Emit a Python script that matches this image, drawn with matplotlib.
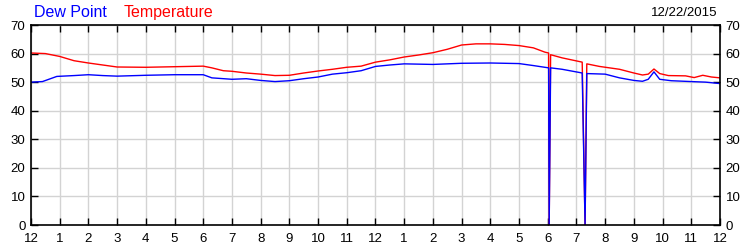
import matplotlib
matplotlib.use("Agg")
import matplotlib.pyplot as plt

plt.rcParams["font.family"] = ["Liberation Sans", "DejaVu Sans"]

# hours since midnight, values in degrees F
temp_hours = [0, 0.5, 1, 1.5, 2, 2.5, 3, 4, 5, 6, 6.3, 6.7, 7, 7.5, 8, 8.5, 9, 9.5,
              10, 10.5, 11, 11.5, 12, 12.5, 13, 13.5, 14, 14.5, 15, 15.5, 16, 16.5,
              17, 17.5, 17.9, 18.03, 18.05, 18.1, 18.5, 19.2, 19.3, 19.36, 19.8,
              20.5, 21, 21.3, 21.5, 21.7, 21.9, 22.2, 22.8, 23.1, 23.4, 23.7, 24]
temperature = [60.2, 60, 59, 57.5, 56.7, 56, 55.3, 55.2, 55.4, 55.6, 55, 54, 53.8,
               53.2, 52.8, 52.3, 52.4, 53.2, 53.9, 54.5, 55.2, 55.6, 57, 57.8, 58.8,
               59.5, 60.3, 61.5, 63, 63.4, 63.4, 63.2, 62.8, 62, 60.5, 60.2, 0, 59.6,
               58.5, 57, 0, 56.4, 55.5, 54.5, 53.2, 52.5, 52.8, 54.6, 53, 52.3, 52.2,
               51.6, 52.4, 51.8, 51.5]

dew_hours = [0, 0.4, 0.9, 1.5, 2, 2.5, 3, 4, 5, 6, 6.3, 7, 7.5, 8, 8.5, 9, 9.5, 10,
             10.5, 11, 11.5, 12, 12.5, 13, 14, 15, 16, 17, 17.5, 18.03, 18.05, 18.1,
             18.5, 19.2, 19.3, 19.36, 20, 20.5, 21, 21.3, 21.5, 21.7, 21.9, 22.3, 23,
             23.5, 24]
dew_point = [50, 50.2, 52, 52.3, 52.6, 52.3, 52.1, 52.4, 52.6, 52.6, 51.5, 51, 51.2,
             50.6, 50.2, 50.5, 51.2, 51.8, 52.8, 53.3, 54, 55.5, 56, 56.4, 56.2, 56.6,
             56.7, 56.5, 55.8, 55, 0, 55, 54.5, 53.2, 0, 53, 52.8, 51.5, 50.6, 50.3,
             51, 53.6, 51, 50.5, 50.2, 50, 49.5]

hour_labels = ["12", "1", "2", "3", "4", "5", "6", "7", "8", "9", "10", "11"] * 2 + ["12"]
y_ticks = [0, 10, 20, 30, 40, 50, 60, 70]

fig = plt.figure(figsize=(7.5, 2.5), dpi=100)
ax = fig.add_axes([0.0413, 0.1, 0.9187, 0.8])

ax.plot(temp_hours, temperature, color="red", lw=1.0)
ax.plot(dew_hours, dew_point, color="blue", lw=1.0)

ax.set_xlim(0, 24)
ax.set_ylim(0, 70)
ax.set_xticks(range(25))
ax.set_xticklabels(hour_labels)
ax.set_yticks(y_ticks)
ax.grid(True, color="#d3d3d3", lw=1.0)
ax.set_axisbelow(True)
ax.tick_params(direction="in", length=5, width=1, labelsize=9.5, colors="black",
               top=True, right=True, labelright=True)
ax.tick_params(axis="x", pad=6)
ax.tick_params(axis="y", pad=4)
for s in ax.spines.values():
    s.set_color("black")
    s.set_linewidth(1.2)

fig.text(0.045, 0.95, "Dew Point", color="blue", fontsize=11.5, va="center")
fig.text(0.165, 0.95, "Temperature", color="red", fontsize=11.5, va="center")
fig.text(0.957, 0.95, "12/22/2015", color="black", fontsize=9.5, va="center", ha="right")

fig.savefig("out.png", dpi=100)
